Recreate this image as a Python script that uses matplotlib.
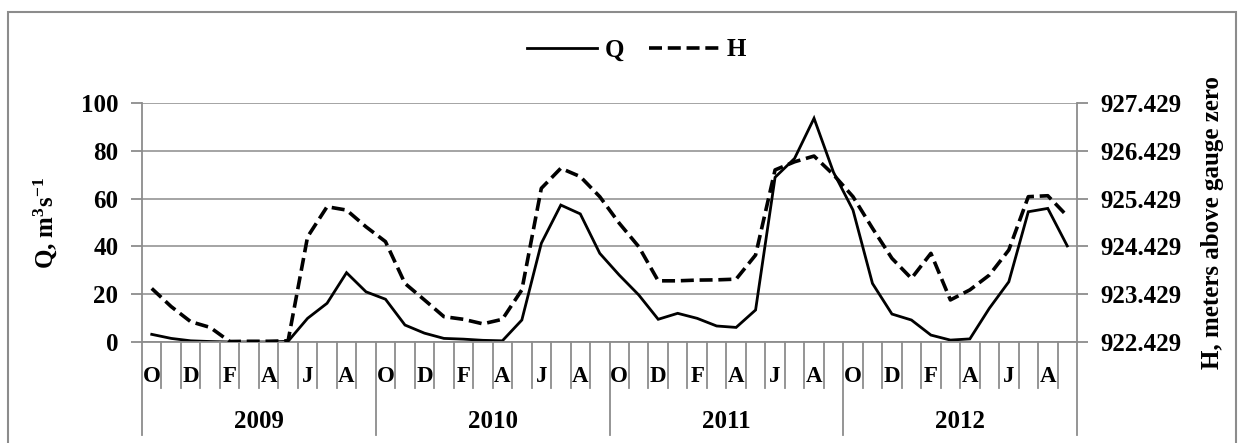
import matplotlib
matplotlib.use("Agg")
import matplotlib.pyplot as plt
from matplotlib.lines import Line2D
from matplotlib.patches import Rectangle
import numpy as np

# ---- data ----
months = ['O', 'N', 'D', 'J', 'F', 'M', 'A', 'M', 'J', 'J', 'A', 'S']
years = ['2009', '2010', '2011', '2012']
Q = [3.2, 1.5, 0.5, 0.2, 0.0, 0.0, 0.0, 0.3, 9.9, 16.2, 29.0, 21.0,
     17.9, 7.1, 3.7, 1.5, 1.2, 0.7, 0.5, 9.2, 41.3, 57.3, 53.6, 37.1,
     28.0, 19.7, 9.5, 12.0, 9.9, 6.7, 6.1, 13.4, 68.9, 76.8, 93.6, 71.0,
     55.2, 24.5, 11.7, 9.2, 2.9, 0.8, 1.3, 14.1, 25.2, 54.5, 55.9, 40.2]
H = [923.549, 923.169, 922.854, 922.734, 922.439, 922.444, 922.444, 922.454,
     924.629, 925.259, 925.189, 924.839,
     924.529, 923.654, 923.309, 922.959, 922.904, 922.809, 922.904, 923.519,
     925.644, 926.064, 925.889, 925.469,
     924.914, 924.424, 923.709, 923.709, 923.724, 923.729, 923.744, 924.249,
     926.029, 926.199, 926.319, 925.929,
     925.469, 924.809, 924.179, 923.759, 924.284, 923.309, 923.519, 923.829,
     924.354, 925.469, 925.489, 925.064]
q_ticks = [0, 20, 40, 60, 80, 100]
h_ticks = [922.429, 923.429, 924.429, 925.429, 926.429, 927.429]

plt.rcParams['font.family'] = ['Liberation Serif', 'DejaVu Serif']
plt.rcParams['font.weight'] = 'bold'
plt.rcParams['mathtext.fontset'] = 'custom'
plt.rcParams['mathtext.rm'] = 'Liberation Serif:bold'
plt.rcParams['mathtext.bf'] = 'Liberation Serif:bold'
plt.rcParams['mathtext.it'] = 'Liberation Serif:bold'

GRAY = '#8c8c8c'
W, Hpx = 1244, 443
fig = plt.figure(figsize=(W / 100, Hpx / 100), dpi=100)
L, R, T, B = 142, 1077, 103, 342
ax = fig.add_axes([L / W, 1 - B / Hpx, (R - L) / W, (B - T) / Hpx])

n = len(Q)
x = np.arange(n) + 0.5
ax.set_xlim(0, n)
ax.set_ylim(q_ticks[0], q_ticks[-1])
ax.set_yticks(q_ticks)
ax.yaxis.grid(True, color=GRAY, lw=1.1)
ax.set_axisbelow(True)
for s in ['top', 'right']:
    ax.spines[s].set_visible(False)
for s in ['left', 'bottom']:
    ax.spines[s].set_color(GRAY)
    ax.spines[s].set_linewidth(1.3)
ax.tick_params(axis='y', length=8, width=1.3, color=GRAY, labelsize=18, pad=9)
ax.set_xticks([])
ax.set_ylabel(r'Q, m$^{3}$s$^{-1}$', fontsize=18, fontweight='bold', labelpad=16)

lq, = ax.plot(x, Q, color='black', lw=2.0, solid_joinstyle='miter')

ax2 = ax.twinx()
ax2.set_ylim(h_ticks[0], h_ticks[-1])
ax2.set_yticks(h_ticks)
ax2.set_yticklabels(['%.3f' % v for v in h_ticks])
for s in ['top', 'left', 'bottom']:
    ax2.spines[s].set_visible(False)
ax2.spines['right'].set_color(GRAY)
ax2.spines['right'].set_linewidth(1.3)
ax2.tick_params(axis='y', length=8, width=1.3, color=GRAY, labelsize=18, pad=9)
ax2.set_ylabel('H, meters above gauge zero', fontsize=18, fontweight='bold', labelpad=14)
lh, = ax2.plot(x, H, color='black', lw=2.6, dashes=(3.6, 1.6))

# category axis with month and year rows
trans = ax.get_xaxis_transform()
ah = (B - T)
month_line = -46 / ah
year_line = -93 / ah
for i in range(n + 1):
    bottom = year_line if i % 12 == 0 else month_line
    ax.add_line(Line2D([i, i], [0, bottom], transform=trans, color=GRAY,
                       lw=1.3, clip_on=False))
for i in range(n):
    if i % 2 == 0:
        ax.text(i + 0.5, -34 / ah, months[i % 12], transform=trans,
                ha='center', va='center', fontsize=16.5, fontweight='bold')
for k, yr in enumerate(years):
    ax.text(12 * k + 6, -80 / ah, yr, transform=trans, ha='center',
            va='center', fontsize=18, fontweight='bold')

fig.legend([lq, lh], ['Q', 'H'], loc='center', bbox_to_anchor=(0.512, 1 - 50 / Hpx),
           ncol=2, frameon=False, handlelength=2.8,
           columnspacing=1.0, handletextpad=0.3, prop={'weight': 'bold', 'size': 18})

# outer border
fig.add_artist(Rectangle((8 / W, -0.05), (1236 - 8) / W, 1.05 - 12 / Hpx,
                         transform=fig.transFigure, fill=False,
                         edgecolor=GRAY, lw=1.5))

fig.savefig('out.png', dpi=100, facecolor='white')
